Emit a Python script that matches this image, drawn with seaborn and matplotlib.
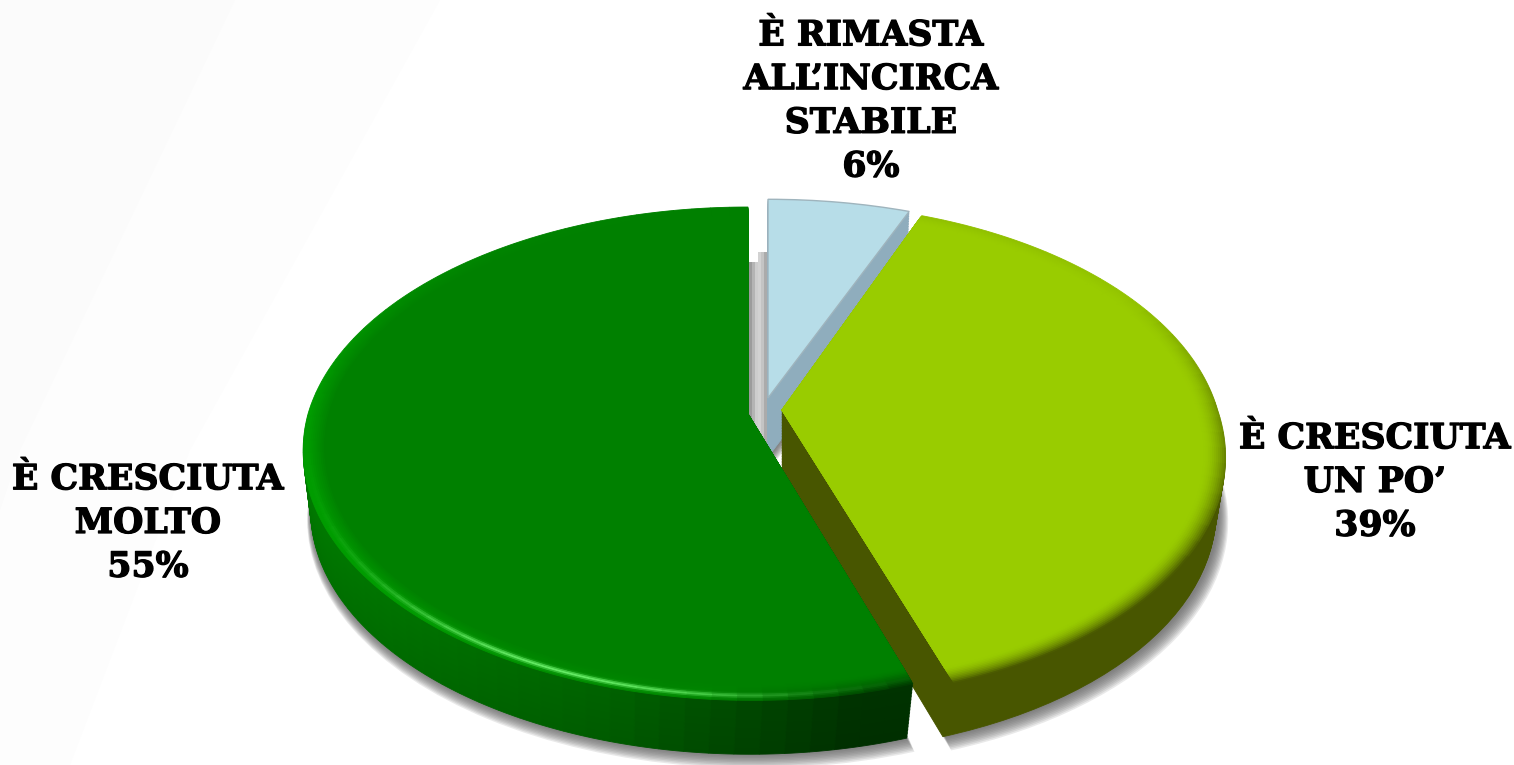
import numpy as np
import matplotlib
matplotlib.use("Agg")
import matplotlib.pyplot as plt
import matplotlib.patheffects as pe
import seaborn as sns
from matplotlib.transforms import Transform
from matplotlib.patches import Polygon, Rectangle
from matplotlib.colors import to_rgb

# ---- data -----------------------------------------------------------
categories = ["È RIMASTA\nALL’INCIRCA\nSTABILE", "È CRESCIUTA\nUN PO’", "È CRESCIUTA\nMOLTO"]
values = [6, 39, 55]
value_labels = ["6%", "39%", "55%"]
top_colors = ["#b7dde8", "#99cc00", "#008000"]
wall_colors = ["#8fadbd", "#485600", "#006400"]

# ---- layout ---------------------------------------------------------
apex = [(768, 398), (782, 410), (748, 414)]
x_scale = [1.0, 0.99, 1.0]
y_up = [0.96, 1.0, 1.0]
y_down = [1.0, 1.015, 1.005]
lean = [0.0, 14.0, 5.0]
label_pos = [(871, 101), (1375, 482), (148, 523)]
RX, SY, C = 440.0, 239.8, 0.1585
DEPTH = 59

sns.set_theme(style="white")
plt.rcParams["font.family"] = ["DejaVu Serif"]


class Persp(Transform):
    """Tilted-disc projection of the unit pie onto the canvas."""
    input_dims = output_dims = 2
    has_inverse = False
    is_affine = False

    def __init__(self, i, dy=0.0, k=1.0, dx=0.0, lean_f=1.0):
        super().__init__()
        self.i, self.dy, self.k, self.dx, self.lean_f = i, dy, k, dx, lean_f

    def transform_non_affine(self, xy):
        xy = np.asarray(xy, float)
        i = self.i
        w = 1 + C * xy[:, 1]
        neg = np.minimum(xy[:, 1], 0)
        px = self.k * (x_scale[i] * RX * xy[:, 0] / w - self.lean_f * lean[i] * neg)
        fy = np.where(xy[:, 1] > 0, y_up[i], y_down[i])
        py = self.k * fy * SY * xy[:, 1] / w
        return np.column_stack([apex[i][0] + self.dx + px, apex[i][1] + self.dy - py])


def mix(c1, c2, t):
    t = float(np.clip(t, 0, 1))
    a, b = np.array(to_rgb(c1)), np.array(to_rgb(c2))
    return tuple(a + (b - a) * t)


fig = plt.figure(figsize=(15.14, 7.65), dpi=100, facecolor="white")
ax = fig.add_axes([0, 0, 1, 1])

fracs = np.array(values, float) / sum(values)
starts = 90 - 360 * np.concatenate([[0], np.cumsum(fracs)[:-1]])


def draw(i, colors, dy=0.0, k=1.0, dx=0.0, lean_f=1.0, radius=1.0, alpha=None, ec="face", lw=0.6, z=2):
    n = len(colors)
    wedges, _ = ax.pie([fracs[i] / n] * n, startangle=starts[i], counterclock=False,
                       normalize=False, colors=colors, radius=radius,
                       wedgeprops=dict(linewidth=lw, alpha=alpha))
    for w, col in zip(wedges, colors):
        w.set_transform(Persp(i, dy, k, dx, lean_f) + ax.transData)
        w.set_zorder(z)
        if ec == "face":
            w.set_edgecolor(col)
        elif ec is None:
            w.set_edgecolor("none")
        else:
            w.set_edgecolor(ec)
    return wedges


# faint background bands
ax.add_patch(Polygon([(0, 0), (440, 0), (190, 450), (70, 765), (0, 765)], fc="#fdfdfd", ec="none", zorder=0))
ax.add_patch(Polygon([(0, 0), (235, 0), (20, 450), (0, 510)], fc="#fbfbfb", ec="none", zorder=0))

# drop shadow
for s in range(9, -1, -1):
    for i in range(3):
        draw(i, ["#5a5a5a"], dy=DEPTH + s * 1.0, k=0.985 + s * 0.0016, dx=1 + s * 0.35, lean_f=0.5,
             alpha=0.13, ec=None, lw=0, z=1)

# gap between slices
strip_x = [749, 752, 755, 758, 761, 764, 767]
strip_c = ["#9c9c9c", "#b4b4b4", "#cdcdcd", "#d2d2d2", "#c4c4c4", "#ababab"]
for j, col in enumerate(strip_c):
    top = 262 if j < 3 else 252
    ax.add_patch(Rectangle((strip_x[j], top), 3.4, 200, fc=col, ec="none", zorder=1.5))

# walls + tops, back to front
WALL_STEPS = 38
N_GREEN_WALL = 70
N_GREEN_TOP = 70
N_LG_TOP = 40
RING_IN = 0.952


def green_wall(t_depth):
    cols = []
    for j in range(N_GREEN_WALL):
        ang = np.deg2rad(starts[2] - 360 * fracs[2] * (j + 0.5) / N_GREEN_WALL)
        xp = 748 + RX * np.cos(ang) / (1 + C * np.sin(ang))
        u = (xp - 310) / 600
        base = mix("#007a00", "#006200", u / 0.5) if u < 0.5 else mix("#006200", "#003300", (u - 0.5) / 0.4)
        cols.append(mix(base, "#000000", 0.08 * t_depth))
    return cols


def green_top(ring_t):
    cols = []
    for j in range(N_GREEN_TOP):
        deg = (starts[2] - 360 * fracs[2] * (j + 0.5) / N_GREEN_TOP) % 360
        hi = np.exp(-((deg - 248) / 26) ** 2)
        dark = np.clip((deg - 265) / 22, 0, 1) if deg > 200 else 0
        side = np.exp(-((deg - 200) / 50) ** 2)
        glow = np.exp(-((ring_t - 0.72) / 0.12) ** 2)
        c = mix("#008000", "#009c00", 1.3 * ring_t * side * (1 - dark))
        c = mix(c, "#68ee68", hi * glow)
        c = mix(c, "#003c00", dark * ring_t ** 1.5)
        cols.append(c)
    return cols


def lg_top(ring_t):
    cols = []
    for j in range(N_LG_TOP):
        deg = starts[1] - 360 * fracs[1] * (j + 0.5) / N_LG_TOP
        d = np.clip((30 - deg) / 65, 0, 1) * 0.95 + 0.10 * np.clip((deg + 10) / 60, 0, 1)
        cols.append(mix("#99cc00", "#485600", d * ring_t ** 1.8))
    return cols


for i in range(3):
    for st in range(WALL_STEPS, 0, -1):
        t = st / WALL_STEPS
        cols = green_wall(t) if i == 2 else [wall_colors[i]]
        draw(i, cols, dy=DEPTH * t, k=1 - 0.018 * t, lean_f=1 - 0.6 * t, z=3 + i)
    if i == 0:
        draw(i, [top_colors[0]], ec="#9fb4bd", lw=1.0, z=3 + i)
    else:
        for rr in np.linspace(1.0, RING_IN, 12):
            rt = (rr - RING_IN) / (1 - RING_IN)
            cols = lg_top(rt) if i == 1 else green_top(rt)
            draw(i, cols, radius=rr, z=3 + i)
        draw(i, [top_colors[i]], radius=RING_IN, z=3 + i)

# labels
for cat, val, (lx, ly) in zip(categories, value_labels, label_pos):
    ax.text(lx, ly, cat + "\n" + val, ha="center", va="center", fontsize=25,
            fontweight="bold", color="black", linespacing=1.36, zorder=10,
            path_effects=[pe.withStroke(linewidth=0.9, foreground="black")])

ax.set_aspect("auto")
ax.set_xlim(0, 1514)
ax.set_ylim(765, 0)
ax.axis("off")
fig.savefig("out.png", dpi=100, facecolor="white")
